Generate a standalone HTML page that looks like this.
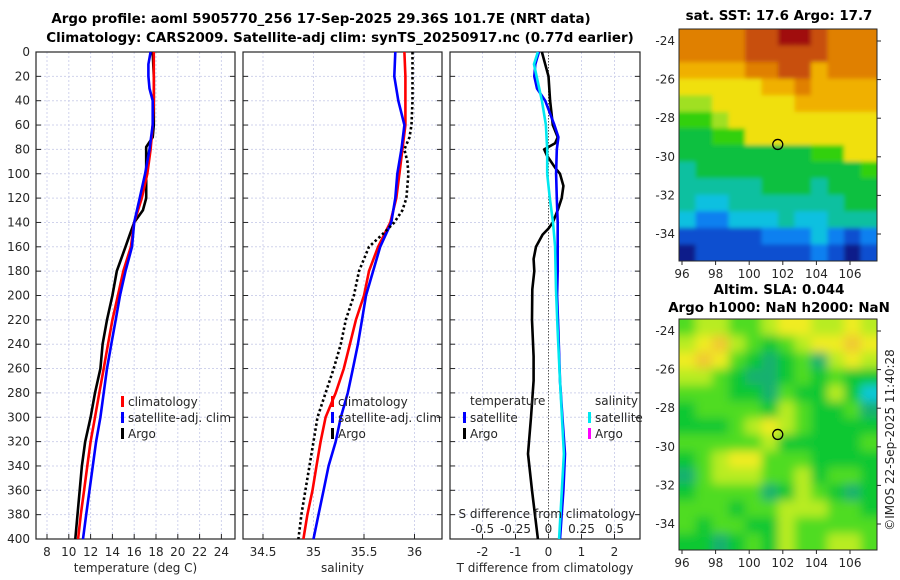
<!DOCTYPE html>
<html><head><meta charset="utf-8">
<style>
html,body{margin:0;padding:0;background:#fff;}
svg{display:block;font-family:"DejaVu Sans","Liberation Sans",sans-serif;}
.tk{font-size:12px;fill:#262626;}
.tt{font-size:13.4px;font-weight:bold;fill:#000;}
</style></head>
<body>
<svg id="fig" width="900" height="580" viewBox="0 0 900 580">
<defs>
<filter id="blurS" x="-5%" y="-5%" width="110%" height="110%"><feGaussianBlur stdDeviation="2"/></filter>
<filter id="blurL" x="-5%" y="-5%" width="110%" height="110%"><feGaussianBlur stdDeviation="5"/></filter>
<clipPath id="clip1"><rect x="679" y="29" width="198" height="232"/></clipPath>
<clipPath id="clip2"><rect x="679" y="319" width="198" height="231"/></clipPath>
</defs>
<text class="tt" x="321" y="23" text-anchor="middle">Argo profile: aoml 5905770_256 17-Sep-2025 29.36S 101.7E (NRT data)</text>
<text class="tt" x="340" y="42" text-anchor="middle">Climatology: CARS2009. Satellite-adj clim: synTS_20250917.nc (0.77d earlier)</text>
<text class="tt" x="779" y="20" text-anchor="middle">sat. SST: 17.6 Argo: 17.7</text>
<text class="tt" x="779" y="294" text-anchor="middle">Altim. SLA: 0.044</text>
<text class="tt" x="779" y="312" text-anchor="middle">Argo h1000: NaN h2000: NaN</text>
<text class="tk" transform="translate(894,440) rotate(-90)" text-anchor="middle">©IMOS 22-Sep-2025 11:40:28</text>
</svg>
<script>
// ---- data ----
const depthTicks=[0,20,40,60,80,100,120,140,160,180,200,220,240,260,280,300,320,340,360,380,400];
const tempTicks=[8,10,12,14,16,18,20,22,24];
const salTicks=[34.5,35,35.5,36];
const tdiffTicks=[-2,-1,0,1,2];
const sdiffTicks=[-0.5,-0.25,0,0.25,0.5];
const climDepth=[0,20,40,60,80,100,120,140,160,180,200,220,240,260,280,300,320,340,360,380,400];
const climTemp=[17.8,17.8,17.8,17.7,17.5,17.2,16.7,16.0,15.7,15.0,14.5,14.0,13.6,13.2,12.8,12.4,12.0,11.7,11.4,11.1,10.85];
const satDepth=[0,10,20,30,40,60,80,100,120,140,160,180,200,220,240,260,280,300,320,340,360,380,400];
const satTemp=[17.5,17.3,17.3,17.4,17.7,17.7,17.4,17.0,16.5,16.0,15.8,15.2,14.7,14.3,13.9,13.5,13.2,12.9,12.5,12.2,11.9,11.6,11.3];
const argoDepth=[0,20,40,60,70,78,80,100,120,130,140,150,160,180,200,220,240,260,280,300,320,340,360,380,400];
const argoTemp=[17.7,17.8,17.8,17.8,17.7,17.1,17.1,17.1,17.1,16.8,16.0,15.6,15.2,14.4,14.0,13.5,13.1,12.9,12.4,12.0,11.5,11.2,11.0,10.8,10.6];
const climSalDepth=[0,20,40,60,80,100,120,140,160,180,200,220,240,260,280,300,320,340,360,380,400];
const climSal=[35.9,35.91,35.91,35.91,35.88,35.85,35.82,35.76,35.64,35.55,35.5,35.42,35.36,35.3,35.22,35.12,35.07,35.03,34.99,34.94,34.9];
const satSalDepth=[0,20,40,60,80,100,120,140,160,180,200,220,240,260,280,300,320,340,360,380,400];
const satSal=[35.81,35.8,35.84,35.9,35.87,35.83,35.81,35.77,35.66,35.59,35.52,35.48,35.44,35.39,35.34,35.27,35.22,35.15,35.1,35.05,35.0];
const argoSalDepth=[0,20,40,60,70,80,90,100,120,130,140,150,160,180,200,220,240,260,280,300,320,340,360,380,400];
const argoSal=[35.98,35.98,35.98,35.97,35.95,35.9,35.93,35.94,35.92,35.88,35.8,35.68,35.55,35.45,35.4,35.32,35.27,35.2,35.12,35.04,35.0,34.96,34.92,34.88,34.85];
const tdSatDepth=[0,10,20,30,40,60,70,80,100,120,140,160,180,200,230,270,300,330,360,400];
const tdSat=[-0.29,-0.4,-0.43,-0.35,-0.1,0.18,0.3,0.25,0.23,0.25,0.28,0.28,0.28,0.26,0.3,0.35,0.42,0.5,0.45,0.35];
const tdArgoDepth=[0,10,20,40,60,70,75,80,85,95,100,110,120,130,140,145,150,160,170,180,195,220,250,270,300,330,360,400];
const tdArgo=[-0.2,-0.1,0,0.05,0.13,0.28,0.2,-0.13,-0.05,0.2,0.35,0.45,0.4,0.28,0.13,0,-0.18,-0.38,-0.45,-0.43,-0.49,-0.5,-0.45,-0.45,-0.53,-0.62,-0.5,-0.32];
const sdSatDepth=[0,10,20,40,60,80,100,120,140,160,195,230,270,330,400];
const sdSat=[-0.08,-0.11,-0.09,-0.05,-0.02,-0.01,-0.01,0.01,0.034,0.05,0.057,0.07,0.087,0.117,0.08];
const lonTicks=[96,98,100,102,104,106];
const latTicks=[-24,-26,-28,-30,-32,-34];
const argoLon=101.7, argoLat=-29.36;
const sstGrid=["AAAABBCCBAAA","AAAABBBBBAAA","9999AABB9AAA","8888899A9999","778888899999","667888888888","556688888888","555555556688","455555555556","444445554555","433444444455","322333433444","111112223212","011111112101"];
const slaGrid=["344334554454","456432345565","565321231454","443211232322","333221322420","233332432231","222345432222","333334222223","234553332222","134443342332","233331243212","333233444332","323322433333","221232433443"];
const sstColors={"0":"#0a1a8a","1":"#0a50d0","2":"#1080f0","3":"#10c0e0","4":"#10c0a0","5":"#10c040","6":"#30d010","7":"#a0e020","8":"#f0e010","9":"#f0b000","A":"#e08000","B":"#c85010","C":"#a01010"};
const slaColors={"0":"#10c8d8","1":"#18b070","2":"#10c830","3":"#50dc20","4":"#b8ec20","5":"#f0ec20","6":"#f0c830"};

// ---- scales ----
const NS="http://www.w3.org/2000/svg";
const svg=document.getElementById('fig');
const Y0=52,Y1=539;
const yD=d=>Y0+d*(Y1-Y0)/400;
const xT=t=>47+(t-8)*10.9;
const xS=s=>313.5+(s-35)*101;
const xTD=d=>548.5+d*33;
const xSD=d=>548.5+d*132;
const lonX=l=>682+(l-96)*16.8;
const latY1=l=>41+(-24-l)*19.3;
const latY2=l=>331+(-24-l)*19.3;
function mk(tag,attrs,parent){const e=document.createElementNS(NS,tag);for(const k in attrs)e.setAttribute(k,attrs[k]);(parent||svg).appendChild(e);return e;}
function txt(x,y,s,anchor,cls,fill){const e=mk('text',{x:x,y:y,'text-anchor':anchor||'middle',class:cls||'tk'});if(fill)e.setAttribute('fill',fill);e.textContent=s;return e;}

const panels=[{x0:36,x1:235,ticks:tempTicks,fx:xT,label:'temperature (deg C)',name:'temperature-panel'},
{x0:243,x1:442,ticks:salTicks,fx:xS,label:'salinity',name:'salinity-panel'},
{x0:450,x1:640,ticks:tdiffTicks,fx:xTD,label:'T difference from climatology',name:'difference-panel'}];
panels.forEach((p,pi)=>{
  const g=mk('g',{});
  
  
  depthTicks.forEach(d=>{
    const l=mk('line',{x1:p.x0,x2:p.x1,y1:yD(d),y2:yD(d),stroke:'#d0d3ec','stroke-width':1,'stroke-dasharray':'2,2'},g);
    
    
    mk('line',{x1:p.x0,x2:p.x0+5,y1:yD(d),y2:yD(d),stroke:'#262626'},g);
    mk('line',{x1:p.x1-5,x2:p.x1,y1:yD(d),y2:yD(d),stroke:'#262626'},g);
    if(pi===0){const t=txt(30,yD(d)+4,String(d),'end');}
  });
  p.ticks.forEach(v=>{
    const x=p.fx(v);
    const l=mk('line',{x1:x,x2:x,y1:Y0,y2:Y1,stroke:(pi===2&&v===0)?'none':'#d0d3ec','stroke-dasharray':'2,2'},g);
    
    
    mk('line',{x1:x,x2:x,y1:Y1-5,y2:Y1,stroke:'#262626'},g);
    const t=txt(x,556,String(v));
    
    
  });
  const r=mk('rect',{x:p.x0,y:Y0,width:p.x1-p.x0,height:Y1-Y0,fill:'none',stroke:'#262626','stroke-width':1.2},g);
  
  
  const xl=txt((p.x0+p.x1)/2,572,p.label);
  
  
});
const zl=mk('line',{x1:xTD(0),x2:xTD(0),y1:Y0,y2:Y1,stroke:'#555','stroke-dasharray':'1.5,1.5'});



function poly(xs,ds,fx,color,name,dash){
  const pts=xs.map((v,i)=>fx(v).toFixed(1)+','+yD(ds[i]).toFixed(1)).join(' ');
  const e=mk('polyline',{points:pts,fill:'none',stroke:color,'stroke-width':2.6,'stroke-linejoin':'round'});
  if(dash)e.setAttribute('stroke-dasharray',dash);
  
  
}
poly(argoTemp,argoDepth,xT,'#000','argo-temperature-line');
poly(climTemp,climDepth,xT,'#ff0000','climatology-temperature-line');
poly(satTemp,satDepth,xT,'#0000ff','satellite-temperature-line');
poly(climSal,climSalDepth,xS,'#ff0000','climatology-salinity-line');
poly(satSal,satSalDepth,xS,'#0000ff','satellite-salinity-line');
poly(argoSal,argoSalDepth,xS,'#000','argo-salinity-line','2.5,2.5');
poly(tdArgo,tdArgoDepth,xTD,'#000','argo-tdiff-line');
poly(tdSat,tdSatDepth,xTD,'#0000ff','satellite-tdiff-line');
poly(sdSat,sdSatDepth,xSD,'#00e8f0','satellite-sdiff-line');

function leg(x,y,color,label,name){
  const m=mk('rect',{x:x,y:y-10,width:3,height:11,fill:color});
  
  
  const t=txt(x+7,y,label,'start');
  
  
}
leg(121,406,'#ff0000','climatology','legend-climatology');
leg(121,422,'#0000ff','satellite-adj. clim','legend-satellite-adj');
leg(121,438,'#000','Argo','legend-argo');
leg(331,406,'#ff0000','climatology','legend-sal-climatology');
leg(331,422,'#0000ff','satellite-adj. clim','legend-sal-satellite-adj');
leg(331,438,'#000','Argo','legend-sal-argo');
(function(){const t=txt(470,405,'temperature','start');
const s=txt(595,405,'salinity','start');})();
leg(463,422,'#0000ff','satellite','legend-t-satellite');
leg(463,438,'#000','Argo','legend-t-argo');
leg(588,422,'#00e8f0','satellite','legend-s-satellite');
leg(588,438,'#ff00ff','Argo','legend-s-argo');
(function(){const t=txt(547,518,'S difference from climatology');})();
sdiffTicks.forEach(v=>{const t=txt(xSD(v),533,String(v));});

function drawMap(grid,colors,latY,name,yTop,yBot,clip,filt){
  const g=mk('g',{});
  
  
  const x0=679,x1=877,rows=grid.length,cols=grid[0].length;
  const cw=(x1-x0)/cols,ch=(yBot-yTop)/rows;
  const cg=mk('g',{'clip-path':'url(#'+clip+')'},g);
  const fg=mk('g',{filter:'url(#'+filt+')'},cg);
  grid.forEach((row,r)=>{for(let c=0;c<cols;c++){
    let rx=x0+c*cw,ry=yTop+r*ch,w=cw+0.6,h=ch+0.6;
    if(c===0){rx-=10;w+=10;} if(c===cols-1){w+=10;}
    if(r===0){ry-=10;h+=10;} if(r===rows-1){h+=10;}
    const cell=mk('rect',{x:rx.toFixed(1),y:ry.toFixed(1),width:w.toFixed(1),height:h.toFixed(1),fill:colors[row[c]]},fg);
    
    
  }});
  mk('rect',{x:x0,y:yTop,width:x1-x0,height:yBot-yTop,fill:'none',stroke:'#262626','stroke-width':1},g);
  latTicks.forEach(l=>{const y=latY(l);mk('line',{x1:x1,x2:x1+4,y1:y,y2:y,stroke:'#262626'},g);
    const t=txt(x0-4,y+4,String(l),'end');});
  lonTicks.forEach(l=>{const x=lonX(l);mk('line',{x1:x,x2:x,y1:yBot,y2:yBot+4,stroke:'#262626'},g);
    const t=txt(x,yBot+17,String(l));});
  const c=mk('circle',{cx:lonX(argoLon),cy:latY(argoLat),r:5,fill:'none',stroke:'#000','stroke-width':1.3},g);
  
  
}
drawMap(sstGrid,sstColors,latY1,'sst-map',29,261,'clip1','blurS');
drawMap(slaGrid,slaColors,latY2,'sla-map',319,550,'clip2','blurL');
</script>
</body></html>
